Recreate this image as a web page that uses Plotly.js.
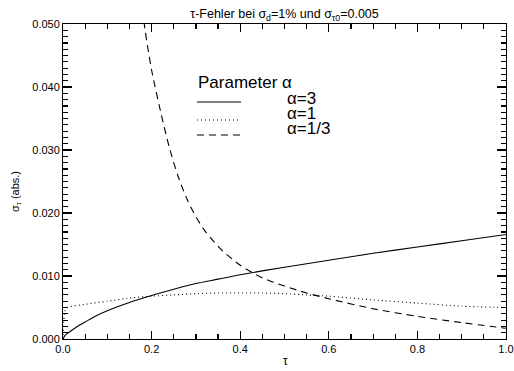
<!DOCTYPE html>
<html>
<head>
<meta charset="utf-8">
<script src="https://cdn.plot.ly/plotly-3.0.1.min.js"></script>
<style>html,body{margin:0;padding:0;background:#fff;}#chart{width:514px;height:371px;}</style>
</head>
<body>
<div id="chart"></div>
<script>
// alpha = 3 (solid)
var tauSolid = [0, 0.005, 0.01, 0.02, 0.035, 0.05, 0.075, 0.1, 0.15, 0.2, 0.25, 0.3, 0.35, 0.4, 0.5, 0.6, 0.7, 0.8, 0.9, 1.0];
var sigSolid = [0, 0.0006, 0.0009, 0.0014, 0.0021, 0.0027, 0.0037, 0.0045, 0.0058, 0.0069, 0.0079, 0.0088, 0.0095, 0.0102, 0.0114, 0.0125, 0.0136, 0.0146, 0.0156, 0.0166];
// alpha = 1 (dotted)
var tauDot = [0, 0.004, 0.01, 0.05, 0.1, 0.15, 0.2, 0.25, 0.3, 0.35, 0.4, 0.45, 0.5, 0.55, 0.6, 0.7, 0.8, 0.9, 1.0];
var sigDot = [0, 0.0044, 0.0050, 0.0055, 0.0060, 0.0065, 0.0068, 0.0070, 0.0072, 0.0073, 0.0073, 0.0073, 0.0072, 0.0070, 0.0068, 0.0062, 0.0057, 0.0052, 0.0050];
// alpha = 1/3 (dashed)
var tauDash = [0.17, 0.185, 0.2, 0.22, 0.24, 0.26, 0.28, 0.3, 0.32, 0.34, 0.36, 0.38, 0.4, 0.45, 0.5, 0.55, 0.6, 0.7, 0.8, 0.9, 1.0];
var sigDash = [0.058, 0.0492, 0.0427, 0.0362, 0.0304, 0.0258, 0.0222, 0.0194, 0.0172, 0.0155, 0.0140, 0.0128, 0.0117, 0.0097, 0.0084, 0.0073, 0.0064, 0.0048, 0.0036, 0.0026, 0.0017];

var legendTitle = "Parameter \u03b1";
var legendLabels = ["\u03b1=3", "\u03b1=1", "\u03b1=1/3"];

var FONT = "Liberation Sans, Arial, Helvetica, sans-serif";
var L = 63, R = 506, T = 24, B = 339, W = 514, H = 371;
function px(x) { return (x - L) / (R - L); }
function py(y) { return (B - y) / (B - T); }

var traces = [
  {x: tauSolid, y: sigSolid, mode: "lines", line: {color: "#000", width: 1.1, shape: "spline", smoothing: 0.8}},
  {x: tauDot, y: sigDot, mode: "lines", line: {color: "#000", width: 1.1, dash: "1px,3px", shape: "spline", smoothing: 0.5}},
  {x: tauDash, y: sigDash, mode: "lines", line: {color: "#000", width: 1.1, dash: "7px,5px", shape: "spline", smoothing: 0.8}}
];

var layout = {
  width: W, height: H,
  margin: {l: L, r: W - R, t: T, b: H - B},
  showlegend: false,
  title: {text: "\u03c4-Fehler bei \u03c3<sub>d</sub>=1% und \u03c3<sub>\u03c40</sub>=0.005",
          font: {family: FONT, size: 12.5, color: "#000"},
          x: 284.5 / W, xanchor: "center", xref: "container",
          y: 1 - 14 / H, yref: "container", yanchor: "middle"},
  xaxis: {
    range: [0, 1], dtick: 0.2, tickformat: ".1f",
    showline: true, linecolor: "#000", mirror: "allticks",
    ticks: "inside", ticklen: 8, tickcolor: "#000", tickwidth: 1.2,
    tickfont: {family: FONT, size: 11, color: "#000"},
    minor: {ticks: "inside", ticklen: 5, dtick: 0.05, tickcolor: "#000", tickwidth: 1.2},
    showgrid: false, zeroline: false
  },
  yaxis: {
    range: [0, 0.05], dtick: 0.01, tickformat: ".3f",
    showline: true, linecolor: "#000", mirror: "allticks",
    ticks: "inside", ticklen: 9, tickcolor: "#000", tickwidth: 1.2,
    tickfont: {family: FONT, size: 11, color: "#000"},
    minor: {ticks: "inside", ticklen: 5, dtick: 0.001, tickcolor: "#000", tickwidth: 1.2},
    showgrid: false, zeroline: false
  },
  annotations: [
    {text: "\u03c4", xref: "paper", yref: "paper", x: px(285), y: py(361), showarrow: false,
     font: {family: FONT, size: 12, color: "#000"}, xanchor: "center", yanchor: "middle"},
    {text: "\u03c3<sub>\u03c4</sub> (abs.)", xref: "paper", yref: "paper", x: px(16), y: py(192), showarrow: false,
     textangle: -90, font: {family: FONT, size: 11, color: "#000"}, xanchor: "center", yanchor: "middle"},
    {text: legendTitle, xref: "paper", yref: "paper", x: px(196), y: py(82), showarrow: false,
     font: {family: FONT, size: 17, color: "#000"}, xanchor: "left", yanchor: "middle"},
    {text: legendLabels[0], xref: "paper", yref: "paper", x: px(285), y: py(98), showarrow: false,
     font: {family: FONT, size: 17, color: "#000"}, xanchor: "left", yanchor: "middle"},
    {text: legendLabels[1], xref: "paper", yref: "paper", x: px(285), y: py(113), showarrow: false,
     font: {family: FONT, size: 17, color: "#000"}, xanchor: "left", yanchor: "middle"},
    {text: legendLabels[2], xref: "paper", yref: "paper", x: px(285), y: py(128), showarrow: false,
     font: {family: FONT, size: 17, color: "#000"}, xanchor: "left", yanchor: "middle"}
  ],
  shapes: [
    {type: "line", xref: "paper", yref: "paper", x0: px(197), x1: px(241), y0: py(102), y1: py(102), line: {color: "#000", width: 1.1}},
    {type: "line", xref: "paper", yref: "paper", x0: px(197), x1: px(241), y0: py(120), y1: py(120), line: {color: "#000", width: 1.1, dash: "1px,3px"}},
    {type: "line", xref: "paper", yref: "paper", x0: px(197), x1: px(241), y0: py(135), y1: py(135), line: {color: "#000", width: 1.1, dash: "7px,5px"}}
  ]
};

Plotly.newPlot("chart", traces, layout, {staticPlot: true, displayModeBar: false});
</script>
</body>
</html>
